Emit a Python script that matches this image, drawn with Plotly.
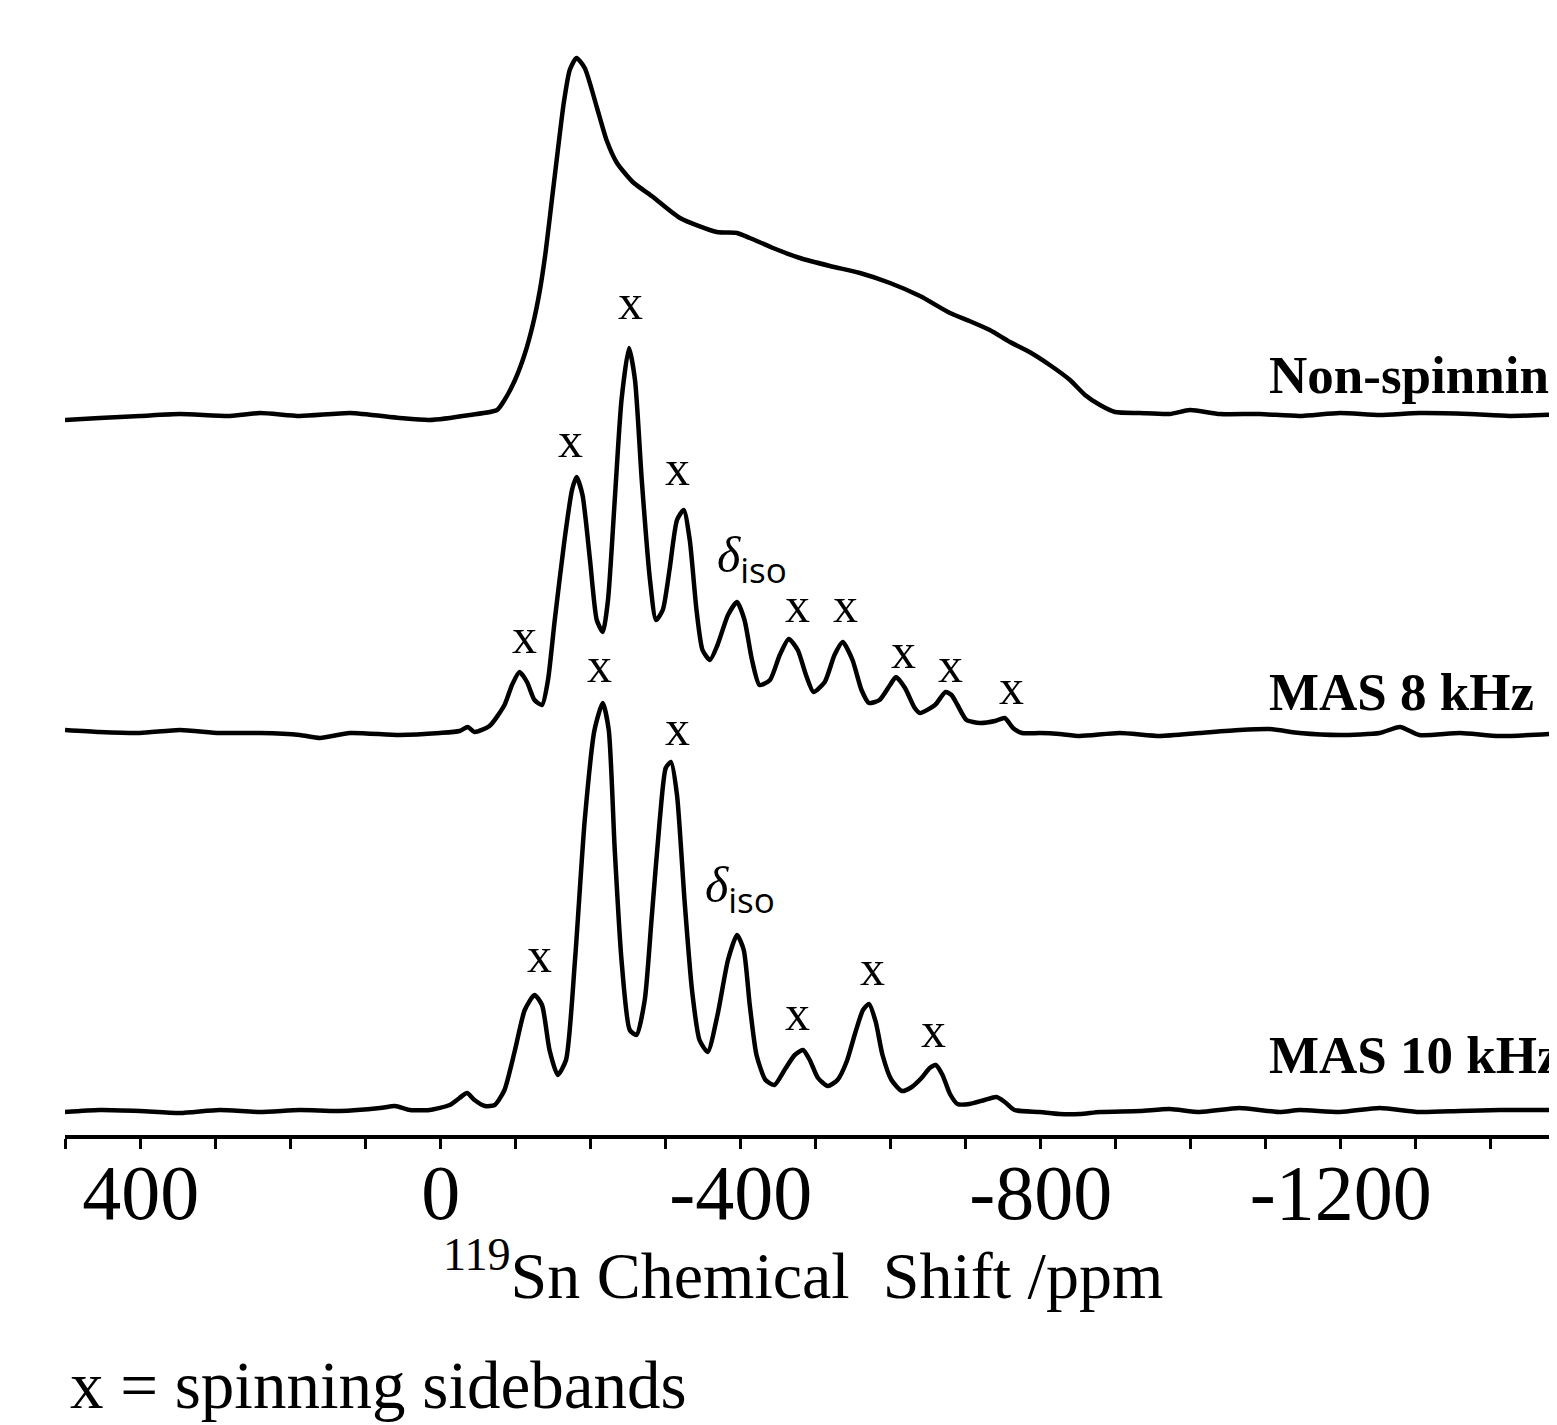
import plotly.graph_objects as go

# ---------------- data (ppm, intensity above each baseline) ----------------
ns_ppm = [501, 455, 401, 348, 281, 241, 188, 121, 55, 15, -39, -75, -85, -99, -112, -123, -132, -140, -148,
          -156, -164, -172, -181, -192, -208, -221, -235, -256, -283, -319, -368, -395, -412, -443, -479,
          -519, -559, -599, -639, -679, -705, -732, -759, -785, -812, -839, -859, -879, -899, -932,
          -972, -999, -1039, -1092, -1145, -1199, -1252, -1305, -1372, -1425, -1499]
ns_int = [-4, -2, 0, 2, 0, 3, 0, 3, -2, -4, 1, 6, 16, 36, 62, 92, 125, 165, 215,
          265, 313, 346, 358, 348, 309, 276, 253, 234, 219, 198, 184, 183, 178, 168, 158,
          150, 143, 133, 120, 103, 95, 86, 74, 64, 51, 36, 21, 11, 4, 3,
          2, 6, 2, 2, 0, 3, 1, 3, 2, 0, 2]

m8_ppm = [501, 455, 401, 348, 295, 241, 188, 161, 121, 55, 1, -25, -36, -45, -65, -85, -95, -105,
          -115, -125, -135, -143, -152, -165, -175, -181, -189, -199, -208, -216, -223, -232, -241,
          -251, -259, -268, -279, -287, -296, -305, -315, -324, -332, -341, -349, -359, -369, -383,
          -395, -405, -415, -425, -439, -452, -464, -476, -487, -497, -512, -525, -536, -549, -561,
          -571, -585, -599, -607, -619, -632, -639, -659, -673, -681, -689, -701, -719, -739, -752,
          -763, -775, -799, -825, -852, -905, -959, -1012, -1065, -1105, -1145, -1199, -1252, -1279,
          -1305, -1359, -1412, -1499]
m8_int = [3, 1, 0, 3, 0, 0, -2, -5, 0, -2, 0, 2, 6, 1, 7, 28, 48, 61,
          51, 33, 28, 53, 113, 193, 243, 256, 238, 173, 113, 101, 133, 233, 333,
          385, 353, 253, 153, 113, 123, 163, 213, 223, 193, 123, 83, 73, 88, 118,
          131, 113, 73, 48, 53, 78, 94, 83, 58, 41, 51, 78, 91, 73, 43,
          30, 33, 48, 56, 45, 25, 20, 28, 41, 38, 28, 13, 10, 12, 15,
          5, 0, 0, -1, -3, 0, -3, 0, 3, 4, 0, -2, 0, 6,
          -2, 0, -3, 0]

m10_ppm = [501, 455, 401, 348, 295, 241, 188, 135, 81, 61, 41, 15, -12, -25, -35, -45, -59, -72,
           -85, -99, -112, -125, -135, -145, -156, -167, -179, -192, -205, -216, -224, -232, -241,
           -252, -261, -272, -281, -292, -300, -307, -315, -325, -335, -345, -356, -369, -383, -395,
           -404, -412, -421, -433, -445, -460, -472, -483, -492, -503, -516, -529, -541, -553, -563,
           -571, -580, -589, -601, -615, -628, -641, -652, -660, -669, -679, -689, -705, -725, -741,
           -752, -765, -799, -825, -852, -879, -932, -972, -1012, -1065, -1119, -1145, -1199, -1252,
           -1305, -1359, -1412, -1499]
m10_int = [-2, 0, -1, -3, 0, -2, 0, -1, 2, 4, 0, 0, 5, 12, 17, 10, 4, 5,
           20, 60, 100, 115, 105, 60, 35, 50, 150, 290, 380, 407, 380, 260, 150,
           80, 75, 110, 190, 290, 342, 348, 315, 210, 120, 70, 58, 95, 150, 175,
           160, 105, 55, 30, 25, 42, 55, 60, 50, 32, 24, 30, 48, 78, 100,
           106, 88, 55, 30, 19, 23, 32, 42, 45, 35, 16, 6, 6, 10, 13,
           8, 0, -2, -4, -4, -2, -1, 1, -2, 2, -2, 0, -2, 2,
           -2, -1, 0, 0]

spectra_names = ["Non-spinning", "MAS 8 kHz", "MAS 10 kHz"]

# sideband marker positions (ppm, height above axis)
sb_ppm = [-253, -173, -315, -111, -475, -539, -617, -679, -761,
          -212, -315, -132, -475, -576, -657]
sb_y = [833, 695, 667, 499, 530, 530, 484, 470, 448,
        470, 407, 180, 122, 167, 105]
iso_ppm = [-415, -399]
iso_y = [575, 245]

major_ticks = [400, 0, -400, -800, -1200]

# ---------------- layout / style ----------------
offsets = [719, 402, 25]
label_y = [760, 443, 80]

fig = go.Figure()
for xs, ys, off in [(ns_ppm, ns_int, offsets[0]), (m8_ppm, m8_int, offsets[1]), (m10_ppm, m10_int, offsets[2])]:
    fig.add_trace(go.Scatter(x=xs, y=[v + off for v in ys], mode="lines",
                             line=dict(color="black", width=4.5, shape="spline", smoothing=0.6),
                             showlegend=False, hoverinfo="skip"))

ann = []
for p, y in zip(sb_ppm, sb_y):
    ann.append(dict(x=p, y=y, text="x", showarrow=False, xref="x", yref="y",
                    font=dict(family="Liberation Serif", size=50, color="black")))
for p, y in zip(iso_ppm, iso_y):
    ann.append(dict(x=p, y=y, showarrow=False, xref="x", yref="y",
                    text="<i>δ</i><sub><span style='font-family:Open Sans'>iso</span></sub>",
                    font=dict(family="Liberation Serif", size=50, color="black")))
for name, y in zip(spectra_names, label_y):
    ann.append(dict(x=-1102, y=y, text="<b>" + name + "</b>", showarrow=False, xref="x", yref="y",
                    xanchor="left", font=dict(family="Liberation Serif", size=53, color="black")))
ann.append(dict(x=-483, y=-0.1222, text="<sup>119</sup>Sn Chemical\u00a0\u00a0Shift /ppm", showarrow=False,
                xref="x", yref="paper", yanchor="middle",
                font=dict(family="Liberation Serif", size=66, color="black")))
ann.append(dict(x=497, y=-0.2262, text="x = spinning sidebands", showarrow=False, xanchor="left",
                xref="x", yref="paper", yanchor="middle",
                font=dict(family="Liberation Serif", size=67, color="black")))

fig.update_layout(
    width=1557, height=1425,
    margin=dict(l=57, r=0, t=22, b=298),
    paper_bgcolor="white", plot_bgcolor="white",
    annotations=ann,
    xaxis=dict(range=[501, -1499], showgrid=False, zeroline=False, showline=True,
               linecolor="black", linewidth=4, ticks="outside", ticklen=10, tickwidth=3,
               tickcolor="black", tickmode="array", tickvals=major_ticks,
               ticktext=[str(v) for v in major_ticks],
               ticklabelstandoff=-24,
               minor=dict(dtick=100, tick0=0, ticks="outside", ticklen=10, tickwidth=3,
                          tickcolor="black", showgrid=False),
               tickfont=dict(family="Liberation Serif", size=78, color="black")),
    yaxis=dict(range=[0, 1105], visible=False, showgrid=False, zeroline=False),
)

fig.write_html("out.html")
